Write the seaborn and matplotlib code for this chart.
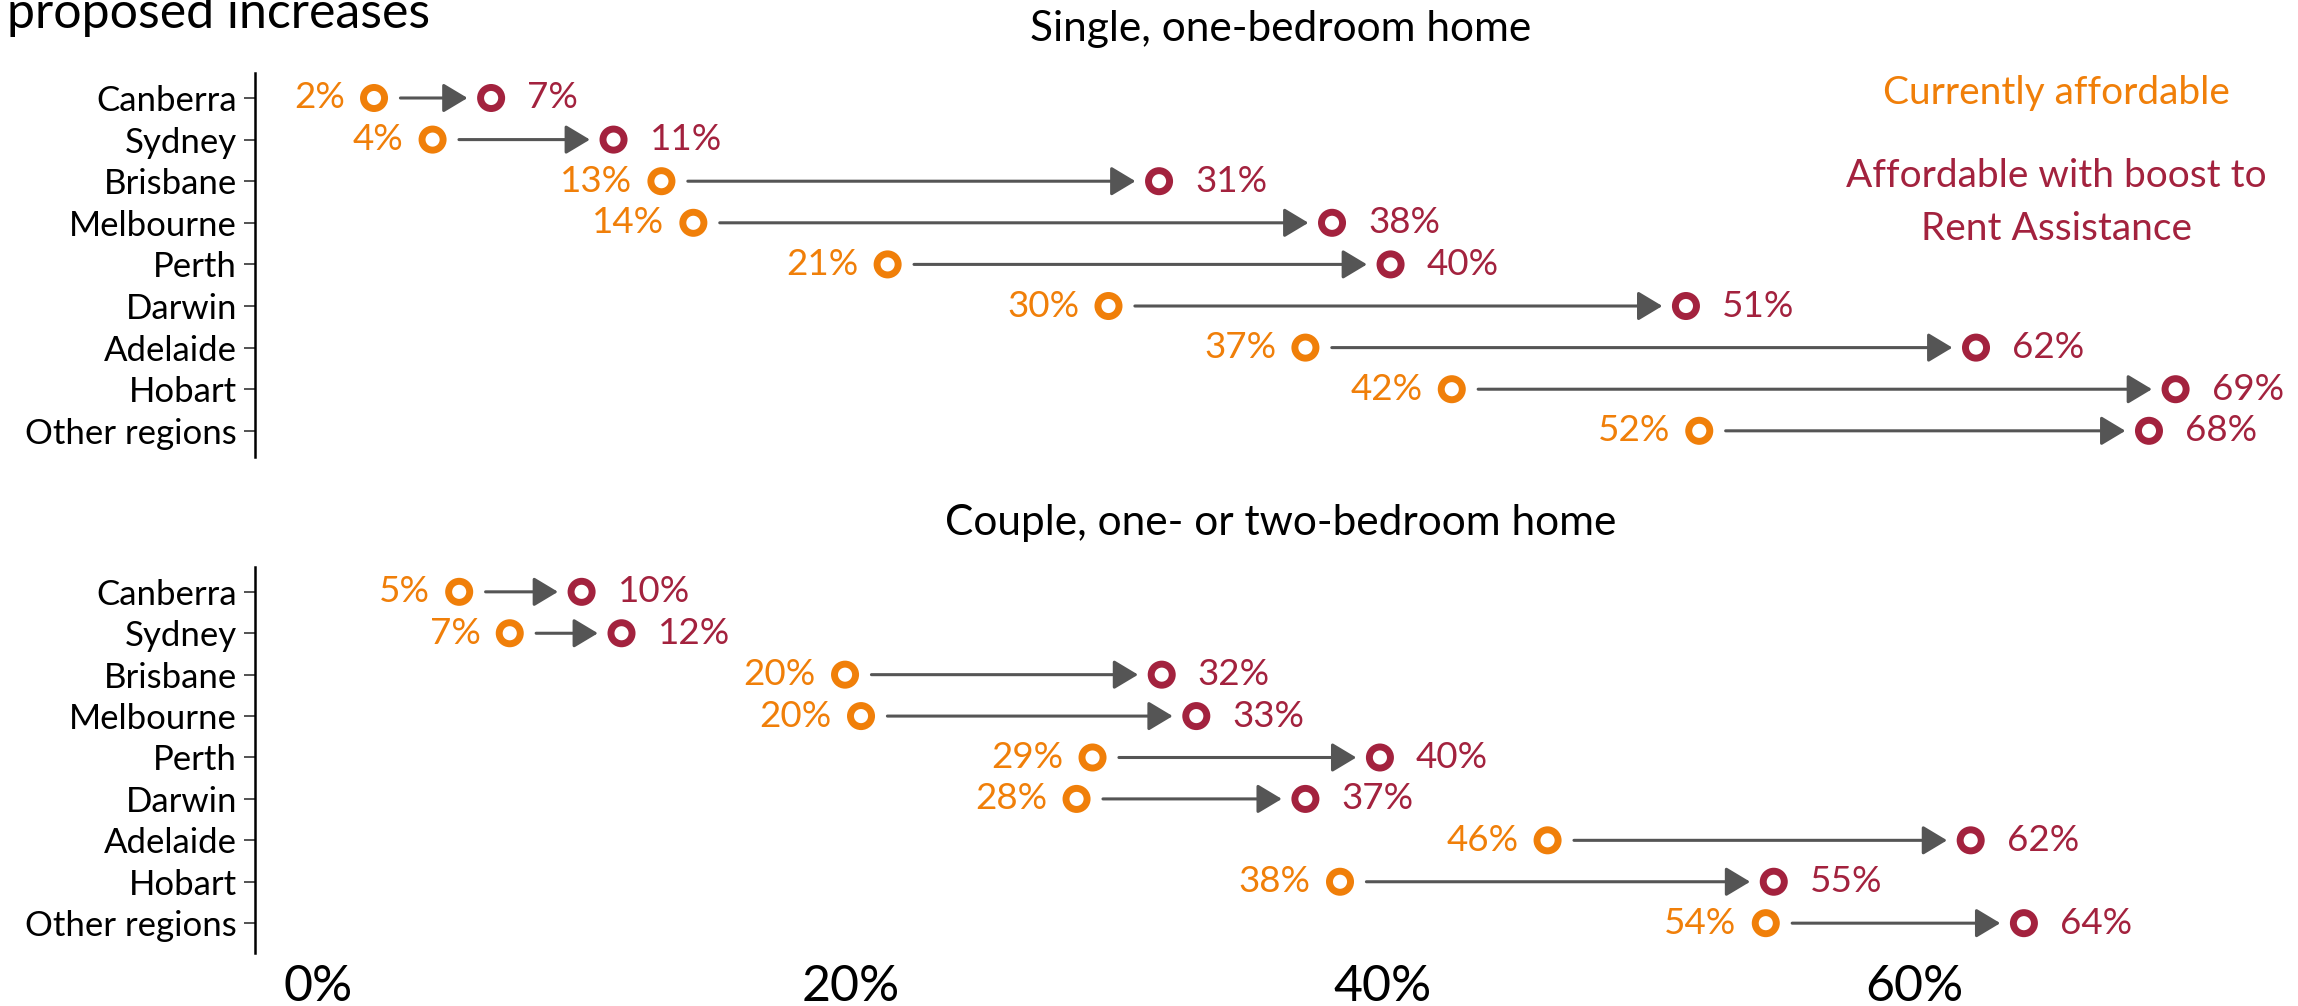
import matplotlib
matplotlib.use("Agg")
import matplotlib.pyplot as plt
import pandas as pd
import seaborn as sns

# ------------------------------------------------------------
# Data (share of rentals affordable, %)
# ------------------------------------------------------------
cities = ["Canberra", "Sydney", "Brisbane", "Melbourne", "Perth",
          "Darwin", "Adelaide", "Hobart", "Other regions"]

single_now = [2.1, 4.3, 12.9, 14.1, 21.4, 29.7, 37.1, 42.6, 51.9]
single_boost = [6.5, 11.1, 31.6, 38.1, 40.3, 51.4, 62.3, 69.8, 68.8]
single_now_lbl = ["2%", "4%", "13%", "14%", "21%", "30%", "37%", "42%", "52%"]
single_boost_lbl = ["7%", "11%", "31%", "38%", "40%", "51%", "62%", "69%", "68%"]

couple_now = [5.3, 7.2, 19.8, 20.4, 29.1, 28.5, 46.2, 38.4, 54.4]
couple_boost = [9.9, 11.4, 31.7, 33.0, 39.9, 37.1, 62.1, 54.7, 64.1]
couple_now_lbl = ["5%", "7%", "20%", "20%", "29%", "28%", "46%", "38%", "54%"]
couple_boost_lbl = ["10%", "12%", "32%", "33%", "40%", "37%", "62%", "55%", "64%"]

x_ticks = [0, 20, 40, 60]
x_tick_labels = ["0%", "20%", "40%", "60%"]

ORANGE = "#F07F09"
RED = "#A3223E"
GREY = "#555555"

# ------------------------------------------------------------
# Style
# ------------------------------------------------------------
sns.set_theme(style="white")
plt.rcParams["font.family"] = ["Lato", "DejaVu Sans"]

fig = plt.figure(figsize=(22.98, 10.06), dpi=100)

ax_top = fig.add_axes([0.111, 0.5457, 0.889, 0.3817])
ax_bot = fig.add_axes([0.111, 0.0527, 0.889, 0.3837])


def draw_panel(ax, now, boost, now_lbl, boost_lbl, ylim):
    df = pd.DataFrame({"city": cities, "now": now, "boost": boost})

    sns.scatterplot(data=df, x="now", y="city", ax=ax, s=230,
                    facecolors="none", edgecolor=ORANGE, linewidth=5,
                    zorder=3, legend=False)
    sns.scatterplot(data=df, x="boost", y="city", ax=ax, s=230,
                    facecolors="none", edgecolor=RED, linewidth=5,
                    zorder=3, legend=False)

    for i in range(len(cities)):
        ax.annotate("", xy=(boost[i], i), xytext=(now[i], i),
                    arrowprops=dict(arrowstyle="-|>,head_length=0.5,head_width=0.3",
                                    mutation_scale=30, color=GREY, lw=2.2,
                                    shrinkA=19, shrinkB=17))
        ax.annotate(now_lbl[i], xy=(now[i], i), xytext=(-21, 0),
                    textcoords="offset points", ha="right", va="center",
                    color=ORANGE, fontsize=26.5)
        ax.annotate(boost_lbl[i], xy=(boost[i], i), xytext=(26, 0),
                    textcoords="offset points", ha="left", va="center",
                    color=RED, fontsize=26.5, annotation_clip=False)

    ax.set_xlim(-2.37, 74.4)
    ax.set_ylim(*ylim)
    ax.set_xlabel("")
    ax.set_ylabel("")
    for side in ["top", "right", "bottom"]:
        ax.spines[side].set_visible(False)
    ax.spines["left"].set_color("black")
    ax.spines["left"].set_linewidth(1.8)
    ax.tick_params(axis="y", left=True, length=8, width=1.3, color="#444444",
                   pad=5, labelsize=25, labelcolor="black")


draw_panel(ax_top, single_now, single_boost, single_now_lbl, single_boost_lbl,
           (8.63, -0.6))
draw_panel(ax_bot, couple_now, couple_boost, couple_now_lbl, couple_boost_lbl,
           (8.72, -0.6))

ax_top.set_xticks([])
ax_bot.set_xticks(x_ticks)
ax_bot.set_xticklabels(x_tick_labels)
ax_bot.tick_params(axis="x", bottom=False, length=0, pad=8, labelsize=36,
                   labelcolor="black")

# ------------------------------------------------------------
# Titles and legend text
# ------------------------------------------------------------
fig.text(0.003, 0.972, "proposed increases", fontsize=36, color="black",
         ha="left", va="baseline")
fig.text(0.5574, 0.9712, "Single, one-bedroom home", fontsize=30.5,
         color="black", ha="center", va="center")
fig.text(0.5574, 0.4801, "Couple, one- or two-bedroom home", fontsize=30.5,
         color="black", ha="center", va="center")

fig.text(0.8947, 0.9076, "Currently affordable", fontsize=28, color=ORANGE,
         ha="center", va="center")
fig.text(0.8947, 0.7985, "Affordable with boost to\nRent Assistance",
         fontsize=28, color=RED, ha="center", va="center",
         multialignment="center", linespacing=1.6)

fig.savefig("out.png", dpi=100)
